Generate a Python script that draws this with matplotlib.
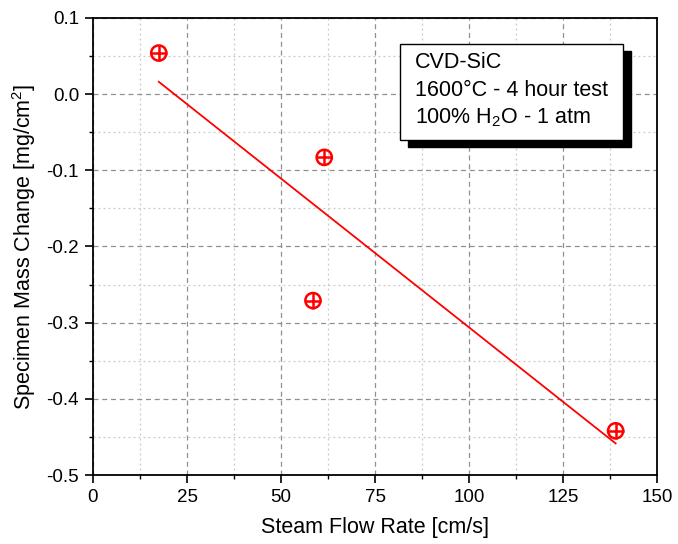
import numpy as np
import matplotlib
matplotlib.use("Agg")
import matplotlib.pyplot as plt
from matplotlib.patches import Rectangle
from matplotlib.ticker import MultipleLocator

plt.rcParams['font.family'] = ['Liberation Sans', 'DejaVu Sans']
plt.rcParams['mathtext.fontset'] = 'custom'
plt.rcParams['mathtext.rm'] = 'Liberation Sans'
plt.rcParams['mathtext.it'] = 'Liberation Sans:italic'

flow_rate = [17.5, 61.5, 58.5, 139.0]
mass_change = [0.054, -0.083, -0.271, -0.442]
x_ticks = [0, 25, 50, 75, 100, 125, 150]
y_ticks = [-0.5, -0.4, -0.3, -0.2, -0.1, 0.0, 0.1]
box_lines = ["CVD-SiC", "1600°C - 4 hour test", "100% H$_2$O - 1 atm"]

fig = plt.figure(figsize=(6.78, 5.44), dpi=100)
ax = fig.add_axes([93/678, 1-475/544, 564/678, 457/544])

ax.set_xlim(0, 150)
ax.set_ylim(-0.5, 0.1)
ax.set_xticks(x_ticks)
ax.set_yticks(y_ticks)
ax.set_yticklabels([f"{v:.1f}" for v in y_ticks])
ax.xaxis.set_minor_locator(MultipleLocator(12.5))
ax.yaxis.set_minor_locator(MultipleLocator(0.05))
ax.tick_params(which='major', direction='out', length=6, width=1.2, labelsize=13.5, top=False, right=False, pad=4)
ax.tick_params(which='minor', direction='out', length=3, width=1.0, top=False, right=False)
for s in ax.spines.values():
    s.set_linewidth(1.3)

ax.grid(which='major', linestyle=(0, (4, 3)), color='#909090', linewidth=0.9)
ax.grid(which='minor', linestyle=(0, (1.5, 2.5)), color='#c8c8c8', linewidth=0.9)
ax.set_axisbelow(True)

# linear fit
xs = np.array(flow_rate)
ys = np.array(mass_change)
slope, intercept = np.polyfit(xs, ys, 1)
xl = np.array([xs.min(), xs.max()])
ax.plot(xl, slope * xl + intercept, color='red', linewidth=1.3, zorder=3)

ax.scatter(xs, ys, s=120, facecolors='none', edgecolors='red', linewidths=1.8, zorder=4)
ax.scatter(xs, ys, s=120, marker='+', color='red', linewidths=1.8, zorder=4)

ax.set_xlabel("Steam Flow Rate [cm/s]", fontsize=15.5, labelpad=8)
ax.set_ylabel("Specimen Mass Change [mg/cm$^2$]", fontsize=15.5, labelpad=6)

# text box with shadow
bx0, bx1 = (400-93)/564, (623-93)/564
by0, by1 = (475-140)/457, (475-44)/457
dx, dy = 8/564, 7/457
ax.add_patch(Rectangle((bx0+dx, by0-dy), bx1-bx0, by1-by0, transform=ax.transAxes,
                       facecolor='black', edgecolor='black', zorder=5, clip_on=False))
ax.add_patch(Rectangle((bx0, by0), bx1-bx0, by1-by0, transform=ax.transAxes,
                       facecolor='white', edgecolor='black', linewidth=1.0, zorder=6, clip_on=False))
tx = (415-93)/564
for i, line in enumerate(box_lines):
    ty = (475-(62+28*i))/457
    ax.text(tx, ty, line, transform=ax.transAxes, fontsize=15.5, va='center', ha='left', zorder=7)

fig.savefig("out.png", dpi=100)
